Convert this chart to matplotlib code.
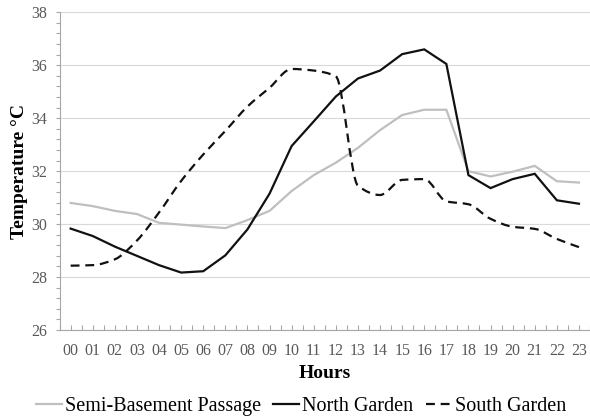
import matplotlib
matplotlib.use("Agg")
import matplotlib.pyplot as plt
import numpy as np
from matplotlib.path import Path
from matplotlib.patches import PathPatch
from matplotlib.lines import Line2D

hours = ["00", "01", "02", "03", "04", "05", "06", "07", "08", "09", "10", "11",
         "12", "13", "14", "15", "16", "17", "18", "19", "20", "21", "22", "23"]

semi_basement = [30.80, 30.68, 30.50, 30.38, 30.05, 29.98, 29.91, 29.85, 30.15, 30.50,
                 31.25, 31.85, 32.32, 32.88, 33.55, 34.12, 34.32, 34.32, 32.00, 31.80,
                 31.98, 32.20, 31.62, 31.57]
north_garden = [29.83, 29.55, 29.15, 28.80, 28.45, 28.17, 28.22, 28.82, 29.80, 31.15,
                32.95, 33.88, 34.82, 35.50, 35.80, 36.42, 36.60, 36.05, 31.85, 31.36,
                31.70, 31.90, 30.90, 30.77]
south_garden = [28.43, 28.45, 28.67, 29.38, 30.44, 31.63, 32.63, 33.52, 34.44, 35.15,
                35.86, 35.80, 35.58, 31.45, 31.10, 31.67, 31.70, 30.86, 30.75, 30.20,
                29.90, 29.82, 29.44, 29.13]

series_names = ["Semi-Basement Passage", "North Garden", "South Garden"]

plt.rcParams['font.family'] = ['Liberation Serif', 'DejaVu Serif']

fig = plt.figure(figsize=(5.9, 4.19), dpi=100)
ax = fig.add_axes([0.101, 0.2124, 0.899, 0.7582])

x = np.arange(len(hours))
gray_c = "#bfbfbf"
ax.plot(x, semi_basement, color=gray_c, lw=1.6, solid_joinstyle='miter', zorder=3)
ax.plot(x, north_garden, color="#111111", lw=1.6, solid_joinstyle='miter', zorder=4)

# Smoothed dashed line for South Garden: cubic Bezier segments through the
# data points with monotone (Fritsch-Carlson) tangents.
xs = np.asarray(x, dtype=float)
ys = np.asarray(south_garden, dtype=float)
n = len(ys)
d = np.diff(ys) / np.diff(xs)
m = np.zeros(n)
m[0], m[-1] = d[0], d[-1]
for i in range(1, n - 1):
    if d[i - 1] * d[i] <= 0:
        m[i] = 0.0
    else:
        m[i] = 2.0 / (1.0 / d[i - 1] + 1.0 / d[i])
verts = [(xs[0], ys[0])]
codes = [Path.MOVETO]
for i in range(n - 1):
    h = xs[i + 1] - xs[i]
    verts += [(xs[i] + h / 3, ys[i] + m[i] * h / 3),
              (xs[i + 1] - h / 3, ys[i + 1] - m[i + 1] * h / 3),
              (xs[i + 1], ys[i + 1])]
    codes += [Path.CURVE4] * 3
dash_style = (0, (4, 2.6))
patch = PathPatch(Path(verts, codes), fill=False, edgecolor="#111111", lw=1.6,
                  linestyle=dash_style, zorder=5, capstyle='butt')
ax.add_patch(patch)

ax.set_xlim(-0.5, len(hours) - 0.5)
ax.set_ylim(26, 38)
ax.set_xticks(x)
ax.set_xticklabels(hours)
ax.set_xticks(np.arange(-0.5, len(hours), 1.0), minor=True)
ax.set_yticks(np.arange(26, 38.1, 2))
ax.set_yticks(np.arange(26, 38.01, 0.4), minor=True)

tick_c = "#595959"
axis_c = "#a6a6a6"
ax.tick_params(axis='x', which='both', direction='in', length=3.5, width=0.8,
               color=axis_c, labelcolor=tick_c, labelsize=11.5, pad=9)
ax.tick_params(axis='y', which='both', direction='out', length=3, width=0.8,
               color=axis_c, labelcolor=tick_c, labelsize=11.5, pad=6)

ax.grid(axis='y', which='major', color="#d9d9d9", lw=0.8, zorder=0)
ax.set_axisbelow(True)
for s in ['top', 'right']:
    ax.spines[s].set_visible(False)
for s in ['left', 'bottom']:
    ax.spines[s].set_color(axis_c)
    ax.spines[s].set_linewidth(0.8)

ax.set_xlabel("Hours", fontsize=14, fontweight='bold', labelpad=5)
ax.set_ylabel("Temperature °C", fontsize=14, fontweight='bold', labelpad=2)

handles = [Line2D([], [], color=gray_c, lw=1.6),
           Line2D([], [], color="#111111", lw=1.6),
           Line2D([], [], color="#111111", lw=1.6, linestyle=dash_style)]
fig.legend(handles, series_names, loc='center', bbox_to_anchor=(0.51, 0.03),
           ncol=3, frameon=False, fontsize=14.5, handlelength=1.3,
           handletextpad=0.15, columnspacing=0.6, borderaxespad=0)

fig.savefig("out.png", dpi=100)
